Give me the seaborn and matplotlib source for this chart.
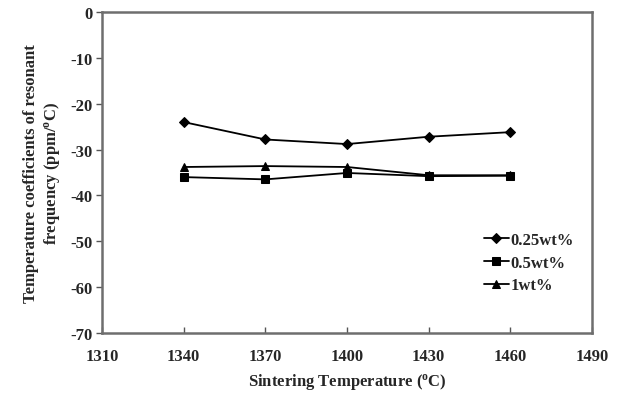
import matplotlib
matplotlib.use("Agg")
import matplotlib.pyplot as plt
import seaborn as sns
import pandas as pd

temperatures = [1340, 1370, 1400, 1430, 1460]
tcf_025 = [-24.0, -27.8, -28.8, -27.2, -26.2]
tcf_05 = [-36.0, -36.5, -35.1, -35.8, -35.7]
tcf_1 = [-33.8, -33.6, -33.8, -35.6, -35.6]
series_names = ["0.25wt%", "0.5wt%", "1wt%"]

df = pd.DataFrame({
    "T": temperatures * 3,
    "tcf": tcf_025 + tcf_05 + tcf_1,
    "series": [s for s in series_names for _ in temperatures],
})

sns.set_theme(style="white")
plt.rcParams["font.family"] = ["Liberation Serif", "DejaVu Serif"]
plt.rcParams["mathtext.fontset"] = "custom"
plt.rcParams["mathtext.rm"] = "Liberation Serif"
plt.rcParams["axes.unicode_minus"] = False

fig = plt.figure(figsize=(6.32, 4.06), dpi=100)
ax = fig.add_axes([0.1614, 0.1773, 0.7753, 0.7907])

sns.lineplot(
    data=df, x="T", y="tcf", hue="series", style="series",
    hue_order=series_names, style_order=series_names,
    palette=["black"] * 3, markers=["D", "s", "^"], dashes=False,
    linewidth=1.3, markersize=5.5, markeredgecolor="black", ax=ax,
)

ax.set_xlim(1310, 1490)
ax.set_ylim(-70, 0)
ax.set_xticks(range(1310, 1491, 30))
ax.set_yticks(range(-70, 1, 10))
ax.tick_params(axis="x", direction="in", length=4, width=1, color="#555555",
               labelsize=12, pad=11)
ax.tick_params(axis="y", direction="out", length=4, width=1, color="#555555",
               labelsize=12, pad=3)
ax.tick_params(left=True, bottom=True)
for lab in ax.get_xticklabels() + ax.get_yticklabels():
    lab.set_fontweight("bold")

for sp in ax.spines.values():
    sp.set_color("#6e6e6e")
    sp.set_linewidth(1.8)

ax.set_xlabel("Sintering Temperature ($\\mathregular{^{o}}$C)", fontsize=12,
              fontweight="bold", labelpad=5)
ax.set_ylabel("Temperature coefficients of resonant\nfrequency (ppm/$\\mathregular{^{o}}$C)",
              fontsize=12, fontweight="bold", labelpad=6)

leg = ax.legend(loc="upper left", bbox_to_anchor=(0.765, 0.335), frameon=False,
                fontsize=12, handlelength=1.5, handletextpad=0.1,
                labelspacing=0.4, borderaxespad=0)
for t in leg.get_texts():
    t.set_fontweight("bold")

fig.savefig("out.png", dpi=100)
